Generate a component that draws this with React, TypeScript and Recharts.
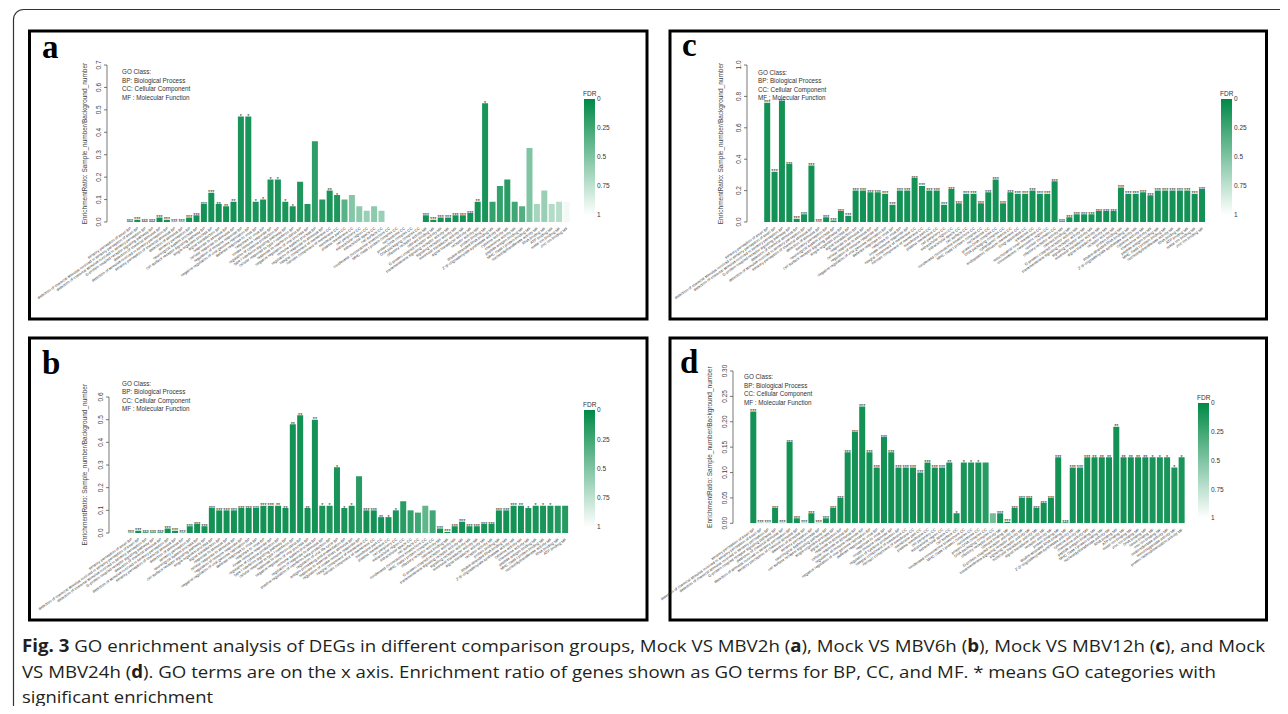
import { BarChart, Bar, XAxis, YAxis, Cell, LabelList } from "recharts";

const FONT = "'Liberation Sans', Arial, Helvetica, sans-serif";

// GO term pools (x labels are tiny in the figure, read as typical GO terms)
const BP_TERMS = [
  "sensory perception of smell",
  "detection of chemical stimulus involved in sensory perception of smell",
  "detection of chemical stimulus involved in sensory perception",
  "G-protein coupled receptor signaling pathway",
  "detection of chemical stimulus",
  "detection of stimulus involved in sensory perception",
  "sensory perception of chemical stimulus",
  "detection of stimulus",
  "sensory perception",
  "neurological system process",
  "cell surface receptor signaling pathway",
  "single-organism process",
  "signal transduction",
  "response to stimulus",
  "cellular response to stimulus",
  "regulation of immune response",
  "negative regulation of viral genome replication",
  "defense response to virus",
  "response to virus",
  "innate immune response",
  "regulation of cytokine production",
  "type I interferon signaling pathway",
  "cellular response to type I interferon",
  "response to interferon-alpha",
  "negative regulation of viral process",
  "immune system process",
  "regulation of response to stimulus",
  "positive regulation of interferon-beta production",
  "regulation of viral life cycle",
  "antigen processing and presentation",
  "response to external biotic stimulus",
  "regulation of innate immune response",
];

const CC_TERMS = [
  "integral component of membrane",
  "intrinsic component of membrane",
  "membrane part",
  "plasma membrane",
  "cell periphery",
  "extracellular region",
  "extracellular space",
  "cell surface",
  "condensed chromosome kinetochore",
  "MHC class I protein complex",
  "nucleosome",
  "protein-DNA complex",
  "DNA packaging complex",
  "cytoplasmic vesicle",
  "endoplasmic reticulum membrane",
  "Golgi apparatus",
  "lysosome",
  "mitochondrial inner membrane",
  "chromosome, centromeric region",
  "nuclear chromatin",
];

const MF_TERMS = [
  "olfactory receptor activity",
  "odorant binding",
  "G-protein coupled receptor activity",
  "transmembrane signaling receptor activity",
  "signaling receptor activity",
  "molecular transducer activity",
  "signal transducer activity",
  "receptor activity",
  "protein binding",
  "double-stranded RNA binding",
  "2'-5'-oligoadenylate synthetase activity",
  "cytokine activity",
  "chemokine activity",
  "peptide antigen binding",
  "MHC class I protein binding",
  "nucleotidyltransferase activity",
  "RNA binding",
  "ATP binding",
  "metal ion binding",
  "zinc ion binding",
  "DNA binding",
  "heme binding",
  "iron ion binding",
  "oxidoreductase activity",
  "monooxygenase activity",
  "protein heterodimerization activity",
];

const tag = (list: string[], n: number, cls: string) => list.slice(0, n).map((t) => `${t}  ${cls}`);

const A_TERMS = [...tag(BP_TERMS, 27, "BP"), ...tag(CC_TERMS, 13, "CC"), ...tag(MF_TERMS, 20, "MF")];
const B_TERMS = [...tag(BP_TERMS, 32, "BP"), ...tag(CC_TERMS, 10, "CC"), ...tag(MF_TERMS, 18, "MF")];
const C_TERMS = [...tag(BP_TERMS, 20, "BP"), ...tag(CC_TERMS, 20, "CC"), ...tag(MF_TERMS, 20, "MF")];
const D_TERMS = [...tag(BP_TERMS, 21, "BP"), ...tag(CC_TERMS, 13, "CC"), ...tag(MF_TERMS, 26, "MF")];

// a: Mock VS MBV2h
const A_VALUES = [
  0.003, 0.01, 0.003, 0.003, 0.02, 0.01, 0.002, 0.002, 0.02, 0.03,
  0.08, 0.13, 0.08, 0.07, 0.09, 0.47, 0.47, 0.09, 0.1, 0.19,
  0.19, 0.09, 0.07, 0.18, 0.08, 0.36, 0.1, 0.14, 0.12, 0.1,
  0.12, 0.07, 0.05, 0.07, 0.05, 0, 0, 0, 0, 0,
  0.03, 0.01, 0.02, 0.02, 0.03, 0.03, 0.04, 0.09, 0.53, 0.09,
  0.16, 0.19, 0.09, 0.07, 0.33, 0.08, 0.14, 0.08, 0.09, 0.09,
];
const A_STARS = [
  "***", "***", "***", "***", "***", "***", "***", "***", "***", "***",
  "***", "***", "**", "**", "**", "*", "*", "*", "*", "*",
  "*", "*", "*", "", "", "", "", "**", "*", "",
  "", "", "", "", "", "", "", "", "", "",
  "***", "***", "***", "***", "***", "***", "***", "**", "*", "",
  "", "", "", "", "", "", "", "", "", "",
];
const A_FDR = [
  0.08, 0.08, 0.08, 0.08, 0.08, 0.08, 0.08, 0.08, 0.08, 0.08,
  0.08, 0.08, 0.08, 0.08, 0.08, 0.1, 0.1, 0.1, 0.1, 0.1,
  0.1, 0.1, 0.1, 0.12, 0.12, 0.18, 0.14, 0.1, 0.12, 0.35,
  0.52, 0.55, 0.6, 0.55, 0.6, 1, 1, 1, 1, 1,
  0.08, 0.08, 0.08, 0.08, 0.08, 0.08, 0.08, 0.08, 0.1, 0.2,
  0.2, 0.16, 0.25, 0.32, 0.5, 0.65, 0.6, 0.7, 0.72, 0.95,
];

// b: Mock VS MBV6h
const B_VALUES = [
  0.002, 0.01, 0.003, 0.003, 0.003, 0.02, 0.01, 0.002, 0.03, 0.04,
  0.03, 0.11, 0.1, 0.1, 0.1, 0.11, 0.11, 0.11, 0.12, 0.12,
  0.12, 0.11, 0.48, 0.52, 0.11, 0.5, 0.12, 0.12, 0.29, 0.11,
  0.12, 0.25, 0.1, 0.1, 0.07, 0.07, 0.1, 0.14, 0.1, 0.09,
  0.12, 0.1, 0.02, 0.005, 0.03, 0.05, 0.03, 0.03, 0.04, 0.04,
  0.1, 0.1, 0.12, 0.12, 0.11, 0.12, 0.12, 0.12, 0.12, 0.12,
];
const B_STARS = [
  "***", "***", "***", "***", "***", "***", "***", "***", "***", "***",
  "***", "***", "***", "***", "***", "***", "***", "***", "***", "***",
  "**", "**", "**", "**", "**", "**", "*", "*", "*", "*",
  "*", "", "***", "***", "**", "*", "*", "", "", "",
  "", "", "***", "***", "***", "***", "***", "***", "***", "***",
  "***", "***", "***", "**", "*", "*", "*", "*", "", "",
];
const B_FDR = [
  0.08, 0.08, 0.08, 0.08, 0.08, 0.08, 0.08, 0.08, 0.08, 0.08,
  0.08, 0.08, 0.08, 0.08, 0.08, 0.08, 0.08, 0.08, 0.08, 0.08,
  0.08, 0.08, 0.08, 0.08, 0.08, 0.08, 0.1, 0.1, 0.1, 0.1,
  0.1, 0.15, 0.08, 0.08, 0.08, 0.1, 0.1, 0.16, 0.2, 0.25,
  0.38, 0.25, 0.08, 0.08, 0.08, 0.08, 0.08, 0.08, 0.08, 0.08,
  0.08, 0.08, 0.08, 0.08, 0.1, 0.1, 0.1, 0.1, 0.14, 0.14,
];

// c: Mock VS MBV12h
const C_VALUES = [
  0.76, 0.32, 0.77, 0.37, 0.02, 0.05, 0.36, 0.003, 0.03, 0.01,
  0.07, 0.04, 0.2, 0.2, 0.19, 0.19, 0.18, 0.11, 0.2, 0.2,
  0.28, 0.23, 0.2, 0.2, 0.11, 0.21, 0.12, 0.18, 0.18, 0.12,
  0.19, 0.27, 0.12, 0.19, 0.18, 0.18, 0.2, 0.18, 0.18, 0.26,
  0.005, 0.03, 0.05, 0.05, 0.05, 0.07, 0.07, 0.07, 0.22, 0.18,
  0.18, 0.19, 0.17, 0.2, 0.2, 0.2, 0.2, 0.2, 0.18, 0.21,
];
const C_STARS = [
  "***", "***", "***", "***", "***", "***", "***", "***", "***", "***",
  "***", "***", "***", "***", "***", "***", "***", "***", "***", "***",
  "***", "***", "***", "***", "***", "***", "***", "***", "***", "***",
  "***", "***", "***", "***", "***", "***", "***", "***", "***", "***",
  "***", "***", "***", "***", "***", "***", "***", "***", "***", "***",
  "***", "***", "***", "***", "***", "***", "***", "***", "***", "***",
];
const C_FDR = [
  0.08, 0.08, 0.08, 0.08, 0.08, 0.08, 0.08, 0.08, 0.08, 0.08,
  0.08, 0.08, 0.08, 0.08, 0.08, 0.08, 0.08, 0.08, 0.08, 0.08,
  0.08, 0.08, 0.08, 0.08, 0.08, 0.08, 0.08, 0.08, 0.08, 0.08,
  0.08, 0.08, 0.08, 0.08, 0.08, 0.08, 0.08, 0.08, 0.08, 0.08,
  0.08, 0.08, 0.08, 0.08, 0.08, 0.08, 0.08, 0.08, 0.08, 0.08,
  0.08, 0.08, 0.08, 0.08, 0.08, 0.08, 0.08, 0.08, 0.08, 0.08,
];

// d: Mock VS MBV24h
const D_VALUES = [
  0.22, 0.001, 0.001, 0.03, 0.001, 0.16, 0.01, 0.001, 0.02, 0.001,
  0.01, 0.03, 0.05, 0.14, 0.18, 0.23, 0.14, 0.11, 0.17, 0.14,
  0.11, 0.11, 0.11, 0.1, 0.12, 0.11, 0.11, 0.12, 0.02, 0.12,
  0.12, 0.12, 0.12, 0.02, 0.02, 0.003, 0.03, 0.05, 0.05, 0.03,
  0.04, 0.05, 0.13, 0.002, 0.11, 0.11, 0.13, 0.13, 0.13, 0.13,
  0.19, 0.13, 0.13, 0.13, 0.13, 0.13, 0.13, 0.13, 0.11, 0.13,
];
const D_STARS = [
  "***", "***", "***", "***", "***", "***", "***", "***", "***", "***",
  "***", "***", "***", "***", "***", "***", "***", "***", "***", "***",
  "***", "***", "***", "***", "***", "***", "***", "**", "*", "*",
  "*", "*", "", "", "***", "***", "***", "***", "***", "***",
  "***", "***", "***", "***", "***", "***", "***", "**", "**", "**",
  "**", "**", "**", "**", "**", "*", "*", "*", "*", "*",
];
const D_FDR = [
  0.08, 0.08, 0.08, 0.08, 0.08, 0.08, 0.08, 0.08, 0.08, 0.08,
  0.08, 0.08, 0.08, 0.08, 0.08, 0.08, 0.08, 0.08, 0.08, 0.08,
  0.08, 0.08, 0.08, 0.08, 0.08, 0.08, 0.08, 0.08, 0.1, 0.1,
  0.1, 0.1, 0.15, 0.45, 0.08, 0.08, 0.08, 0.08, 0.08, 0.08,
  0.08, 0.08, 0.08, 0.08, 0.08, 0.08, 0.08, 0.08, 0.08, 0.08,
  0.08, 0.08, 0.08, 0.08, 0.08, 0.1, 0.1, 0.1, 0.1, 0.1,
];

const A_TICKS = [0, 0.1, 0.2, 0.3, 0.4, 0.5, 0.6, 0.7];
const B_TICKS = [0, 0.1, 0.2, 0.3, 0.4, 0.5, 0.6];
const C_TICKS = [0, 0.2, 0.4, 0.6, 0.8, 1.0];
const D_TICKS = [0, 0.05, 0.1, 0.15, 0.2, 0.25, 0.3];

const FDR_TICKS = ["0", "0.25", "0.5", "0.75", "1"];
const LEGEND_LINES = ["GO Class:", "BP: Biological Process", "CC: Cellular Component", "MF : Molecular Function"];
const Y_LABEL = "EnrichmentRatio: Sample_number/Background_number";

const TOP_COLOR = [0, 137, 70];
function fdrColor(f: number) {
  const c = TOP_COLOR.map((v) => Math.round(v + (255 - v) * f));
  return `rgb(${c[0]},${c[1]},${c[2]})`;
}

// page layout of each panel
const LAYOUT: Record<string, any> = {
  a: { box: [29.5, 31, 617.5, 288], letter: [42, 58], axisX: 107, bandStart: 126.3, band: 7.4, yTop: 65, yBottom: 222, yLabelX: 87, legend: [122, 74], cbar: [584, 99, 11, 116] },
  b: { box: [29.5, 338, 617.5, 282], letter: [42, 374], axisX: 109, bandStart: 127.3, band: 7.36, yTop: 396.7, yBottom: 532.7, yLabelX: 87, legend: [122, 385.5], cbar: [584, 410, 11, 117] },
  c: { box: [670, 31, 596.5, 288], letter: [682, 56], axisX: 747, bandStart: 763.6, band: 7.37, yTop: 65, yBottom: 222, yLabelX: 723, legend: [758, 74.5], cbar: [1221, 99, 11, 116] },
  d: { box: [670, 338, 596.5, 282], letter: [680, 373], axisX: 733, bandStart: 749.7, band: 7.26, yTop: 371, yBottom: 523.3, yLabelX: 712, legend: [744, 379], cbar: [1198, 403, 11, 115] },
};

const Y_AXIS_W = 30;
const MARGIN_TOP = 12;
const X_AXIS_H = 90;

function XTick({ x, y, payload }: any) {
  return (
    <text transform={`translate(${x + 1.5},${y + 1}) rotate(-35)`} textAnchor="end" fontSize={3.8} fill="#333" fontFamily={FONT}>
      {payload.value}
    </text>
  );
}

function YTick({ x, y, payload, digits }: any) {
  return (
    <text transform={`translate(${x},${y}) rotate(-90)`} textAnchor="middle" fontSize={6.5} fill="#444" fontFamily={FONT}>
      {Number(payload.value).toFixed(digits)}
    </text>
  );
}

function StarLabel({ x, y, width, value }: any) {
  if (!value) return null;
  return (
    <text x={x + width / 2} y={y + 1.6} textAnchor="middle" fontSize={5.5} fill="#222" fontFamily={FONT}>
      {value}
    </text>
  );
}

function Panel({ cfg, terms, values, stars, fdr, ticks, digits }: any) {
  const rows = terms.map((term: string, i: number) => ({ term, value: values[i], stars: stars[i], fdr: fdr[i] }));
  const padLeft = cfg.bandStart - cfg.axisX;
  const plotW = padLeft + cfg.band * rows.length;
  const plotH = cfg.yBottom - cfg.yTop;
  return (
    <div style={{ position: "absolute", left: cfg.axisX - Y_AXIS_W, top: cfg.yTop - MARGIN_TOP }}>
      <BarChart
        width={Y_AXIS_W + plotW + 2}
        height={MARGIN_TOP + plotH + X_AXIS_H}
        data={rows}
        margin={{ top: MARGIN_TOP, right: 2, bottom: 0, left: 0 }}
        barCategoryGap={0.6}
      >
        <XAxis
          dataKey="term"
          interval={0}
          axisLine={false}
          tickLine={false}
          tickSize={4}
          tickMargin={2}
          height={X_AXIS_H}
          padding={{ left: padLeft, right: 0 }}
          tick={<XTick />}
        />
        <YAxis
          type="number"
          domain={[0, ticks[ticks.length - 1]]}
          ticks={ticks}
          interval={0}
          width={Y_AXIS_W}
          tickSize={3}
          tickMargin={3}
          axisLine={{ stroke: "#555", strokeWidth: 0.8 }}
          tickLine={{ stroke: "#555", strokeWidth: 0.8 }}
          tick={<YTick digits={digits} />}
          allowDataOverflow
        />
        <Bar dataKey="value" isAnimationActive={false}>
          {rows.map((r: any, i: number) => (
            <Cell key={i} fill={fdrColor(r.fdr)} />
          ))}
          <LabelList dataKey="stars" content={<StarLabel />} />
        </Bar>
      </BarChart>
    </div>
  );
}

function Decor({ id, cfg }: any) {
  const [bx, by, bw, bh] = cfg.box;
  const [cx, cy, cw, ch] = cfg.cbar;
  const midY = (cfg.yTop + cfg.yBottom) / 2;
  return (
    <g>
      <rect x={bx} y={by} width={bw} height={bh} fill="none" stroke="#000" strokeWidth={3} />
      <text x={cfg.letter[0]} y={cfg.letter[1]} fontSize={33} fontWeight="bold" fontFamily="'Liberation Serif', 'Times New Roman', serif" fill="#000">
        {id}
      </text>
      {LEGEND_LINES.map((s, i) => (
        <text key={s} x={cfg.legend[0]} y={cfg.legend[1] + i * 8.6} fontSize={6.3} fill="#333" fontFamily={FONT}>
          {s}
        </text>
      ))}
      <text transform={`translate(${cfg.yLabelX},${midY}) rotate(-90)`} textAnchor="middle" fontSize={6.5} fill="#444" fontFamily={FONT}>
        {Y_LABEL}
      </text>
      <text x={cx - 1} y={cy - 3} fontSize={6.5} fill="#333" fontFamily={FONT}>
        FDR
      </text>
      <rect x={cx} y={cy} width={cw} height={ch} fill="url(#fdrGrad)" />
      {FDR_TICKS.map((t, i) => (
        <text key={t} x={cx + cw + 2} y={cy + (ch * i) / (FDR_TICKS.length - 1) + 2.3} fontSize={6.5} fill="#333" fontFamily={FONT}>
          {t}
        </text>
      ))}
    </g>
  );
}

export default function App() {
  return (
    <div style={{ position: "relative", width: 1288, height: 714, margin: -8, background: "#fff", overflow: "hidden" }}>
      <style>{`.recharts-surface { overflow: visible; } .recharts-wrapper { overflow: visible; }`}</style>
      <svg width={1288} height={714} style={{ position: "absolute", left: 0, top: 0 }}>
        <defs>
          <linearGradient id="fdrGrad" x1="0" y1="0" x2="0" y2="1">
            <stop offset="0" stopColor={fdrColor(0)} />
            <stop offset="1" stopColor="#ffffff" />
          </linearGradient>
        </defs>
        <rect x={13.5} y={9.5} width={1300} height={720} rx={10} fill="none" stroke="#333" strokeWidth={1.2} />
        <Decor id="a" cfg={LAYOUT.a} />
        <Decor id="b" cfg={LAYOUT.b} />
        <Decor id="c" cfg={LAYOUT.c} />
        <Decor id="d" cfg={LAYOUT.d} />
        <g fontFamily="'Open Sans', 'Noto Sans', sans-serif" fontSize={17} fill="#231f20">
          <text x={22} y={652} textLength={1243} lengthAdjust="spacingAndGlyphs">
            <tspan fontWeight="bold">Fig. 3</tspan> GO enrichment analysis of DEGs in different comparison groups, Mock VS MBV2h (<tspan fontWeight="bold">a</tspan>), Mock VS MBV6h (<tspan fontWeight="bold">b</tspan>), Mock VS MBV12h (<tspan fontWeight="bold">c</tspan>), and Mock
          </text>
          <text x={22} y={678} textLength={1194} lengthAdjust="spacingAndGlyphs">
            VS MBV24h (<tspan fontWeight="bold">d</tspan>). GO terms are on the x axis. Enrichment ratio of genes shown as GO terms for BP, CC, and MF. * means GO categories with
          </text>
          <text x={22} y={703} textLength={191} lengthAdjust="spacingAndGlyphs">
            significant enrichment
          </text>
        </g>
      </svg>
      <Panel cfg={LAYOUT.a} terms={A_TERMS} values={A_VALUES} stars={A_STARS} fdr={A_FDR} ticks={A_TICKS} digits={1} />
      <Panel cfg={LAYOUT.b} terms={B_TERMS} values={B_VALUES} stars={B_STARS} fdr={B_FDR} ticks={B_TICKS} digits={1} />
      <Panel cfg={LAYOUT.c} terms={C_TERMS} values={C_VALUES} stars={C_STARS} fdr={C_FDR} ticks={C_TICKS} digits={1} />
      <Panel cfg={LAYOUT.d} terms={D_TERMS} values={D_VALUES} stars={D_STARS} fdr={D_FDR} ticks={D_TICKS} digits={2} />
    </div>
  );
}
